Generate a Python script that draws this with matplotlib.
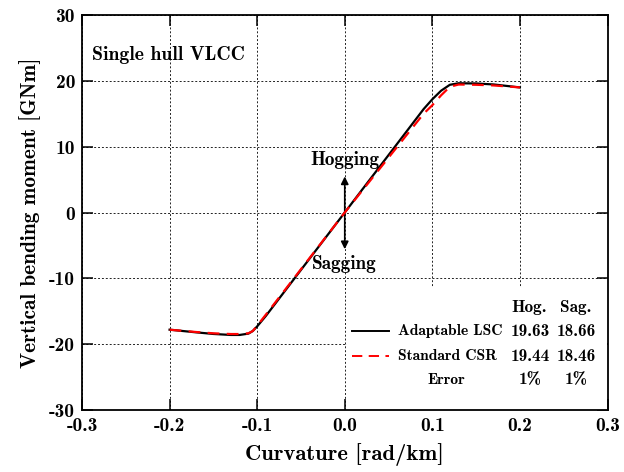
import matplotlib
matplotlib.use("Agg")
import matplotlib.pyplot as plt
from matplotlib.patches import Rectangle
import numpy as np

plt.rcParams['font.family'] = ['cmb10', 'DejaVu Serif']
plt.rcParams['axes.unicode_minus'] = False
plt.rcParams['mathtext.fontset'] = 'cm'

# Adaptable LSC (black solid)
lsc_x = [-0.20, -0.17, -0.15, -0.13, -0.12, -0.11, -0.105, -0.10, -0.09, 0.0, 0.09, 0.10, 0.11, 0.12, 0.13, 0.15, 0.17, 0.20]
lsc_y = [-17.8, -18.2, -18.45, -18.6, -18.6, -18.4, -18.0, -17.3, -15.7, 0.0, 15.7, 17.2, 18.5, 19.4, 19.63, 19.6, 19.45, 19.0]
# Standard CSR (red dashed)
csr_x = [-0.20, -0.17, -0.15, -0.13, -0.12, -0.11, -0.105, -0.10, -0.09, 0.0, 0.09, 0.10, 0.11, 0.12, 0.13, 0.15, 0.17, 0.20]
csr_y = [-17.8, -18.15, -18.35, -18.46, -18.46, -18.35, -18.0, -17.2, -15.5, 0.0, 15.0, 16.3, 17.8, 19.1, 19.44, 19.4, 19.3, 19.0]

hog = ["19.63", "19.44", "1%"]
sag = ["18.66", "18.46", "1%"]
series_names = ["Adaptable LSC", "Standard CSR", "Error"]

fig = plt.figure(figsize=(6.24, 4.72), dpi=100)
ax = fig.add_axes([82/624, 1-410/472, (607.5-82)/624, (410-15)/472])

dash = (0, (5.3, 3.3))
ax.plot(lsc_x, lsc_y, color='black', lw=1.6, zorder=3)
ax.plot(csr_x, csr_y, color='red', lw=1.6, ls=dash, zorder=4)

ax.set_xlim(-0.3, 0.3)
ax.set_ylim(-30, 30)
ax.set_xticks(np.arange(-0.3, 0.31, 0.1))
ax.set_xticklabels(["-0.3", "-0.2", "-0.1", "0.0", "0.1", "0.2", "0.3"])
ax.set_yticks(np.arange(-30, 31, 10))
ax.set_yticklabels(["-30", "-20", "-10", "0", "10", "20", "30"])
ax.tick_params(direction='in', top=True, right=True, labelsize=14, length=8, width=1.1, pad=5)
ax.grid(True, color='#222222', ls=(0, (2, 2)), lw=0.7)
for s in ax.spines.values():
    s.set_linewidth(1.3)

ax.set_xlabel("Curvature [rad/km]", fontsize=16.3, labelpad=6)
ax.set_ylabel("Vertical bending moment [GNm]", fontsize=15.3, labelpad=6)

ax.text(-0.289, 23.9, "Single hull VLCC", fontsize=14.2, ha='left', va='center')
ax.text(0.0, 7.9, "Hogging", fontsize=13.8, ha='center', va='center')
ax.text(0.0, -7.8, "Sagging", fontsize=13.8, ha='center', va='center')
ax.annotate("", xy=(0, 5.9), xytext=(0, -6.0),
            arrowprops=dict(arrowstyle='<|-|>', color='black', lw=1.2, mutation_scale=11))

# legend-like table on white background
ax.add_patch(Rectangle((0.003, -30), 0.297, 18.6, facecolor='white', edgecolor='none', zorder=2.5))
fs = 12.4
fs_name = 11.2
ax.text(0.211, -14.4, "Hog.", fontsize=fs, ha='center', va='center', zorder=5)
ax.text(0.264, -14.4, "Sag.", fontsize=fs, ha='center', va='center', zorder=5)
rows_y = [-18.0, -21.85, -25.4]
styles = [dict(color='black', ls='-'), dict(color='red', ls=dash), None]
for i, y in enumerate(rows_y):
    if styles[i] is not None:
        ax.plot([0.008, 0.0503], [y, y], lw=1.4, zorder=5, **styles[i])
        ax.text(0.0606, y, series_names[i], fontsize=fs_name, ha='left', va='center', zorder=5)
    else:
        ax.text(0.116, y, series_names[i], fontsize=fs_name, ha='center', va='center', zorder=5)
    ax.text(0.212, y, hog[i], fontsize=fs, ha='center', va='center', zorder=5)
    ax.text(0.264, y, sag[i], fontsize=fs, ha='center', va='center', zorder=5)

fig.savefig("out.png", dpi=100)
